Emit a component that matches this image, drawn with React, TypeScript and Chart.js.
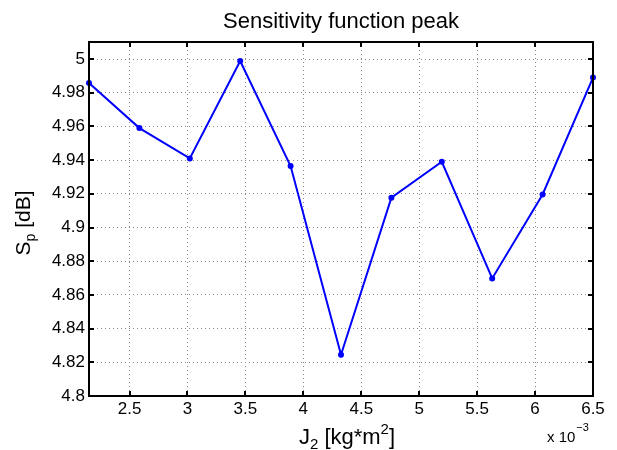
import React, { useEffect, useRef } from "react";
import { Chart, registerables } from "chart.js";

Chart.register(...registerables);

const xValues = [0.00215, 0.002585, 0.00302, 0.003455, 0.00389, 0.004325, 0.00476, 0.005195, 0.00563, 0.006065, 0.0065];
const yValues = [4.9858, 4.959, 4.941, 4.9988, 4.9365, 4.8245, 4.9177, 4.9390, 4.8698, 4.9196, 4.989];
const xTicks = [0.0025, 0.003, 0.0035, 0.004, 0.0045, 0.005, 0.0055, 0.006, 0.0065];
const yTicks = [4.8, 4.82, 4.84, 4.86, 4.88, 4.9, 4.92, 4.94, 4.96, 4.98, 5];
const titleText = "Sensitivity function peak";

const FONT = "'Liberation Sans', Arial, Helvetica, sans-serif";

const framePlugin = {
  id: "matlabFrame",
  afterDraw(chart: any) {
    const { ctx, chartArea: a, scales } = chart;
    const xs = scales.x;
    const ys = scales.y;
    ctx.save();
    ctx.strokeStyle = "#000";
    ctx.lineWidth = 2;
    const tl = 5;
    ctx.beginPath();
    xTicks.forEach((v) => {
      const px = Math.round(xs.getPixelForValue(v));
      ctx.moveTo(px, a.bottom);
      ctx.lineTo(px, a.bottom - tl);
      ctx.moveTo(px, a.top);
      ctx.lineTo(px, a.top + tl);
    });
    yTicks.forEach((v) => {
      const py = Math.round(ys.getPixelForValue(v));
      ctx.moveTo(a.left, py);
      ctx.lineTo(a.left + tl, py);
      ctx.moveTo(a.right, py);
      ctx.lineTo(a.right - tl, py);
    });
    ctx.stroke();
    ctx.strokeRect(a.left, a.top, a.right - a.left, a.bottom - a.top);

    ctx.fillStyle = "#000";

    // title centred over the axes
    ctx.font = `22px ${FONT}`;
    ctx.textAlign = "center";
    ctx.textBaseline = "alphabetic";
    ctx.fillText(titleText, (a.left + a.right) / 2, 28);

    ctx.textAlign = "left";

    // x axis title: J_2 [kg*m^2]
    const big = 22;
    const small = 15;
    const parts: [string, number, number][] = [
      ["J", big, 0],
      ["2", small, 5],
      [" [kg*m", big, 0],
      ["2", small, -10],
      ["]", big, 0],
    ];
    let total = 0;
    parts.forEach(([t, s]) => {
      ctx.font = `${s}px ${FONT}`;
      total += ctx.measureText(t).width;
    });
    let x0 = 347 - total / 2;
    const baseY = 444;
    parts.forEach(([t, s, dy]) => {
      ctx.font = `${s}px ${FONT}`;
      ctx.fillText(t, x0, baseY + dy);
      x0 += ctx.measureText(t).width;
    });

    // y axis title: S_p [dB]
    const ybig = 21;
    const ysmall = 14;
    const yparts: [string, number, number][] = [
      ["S", ybig, 0],
      ["p", ysmall, 5],
      [" [dB]", ybig, 0],
    ];
    let ytotal = 0;
    yparts.forEach(([t, s]) => {
      ctx.font = `${s}px ${FONT}`;
      ytotal += ctx.measureText(t).width;
    });
    ctx.save();
    ctx.translate(30, 223);
    ctx.rotate(-Math.PI / 2);
    let yx = -ytotal / 2;
    yparts.forEach(([t, s, dy]) => {
      ctx.font = `${s}px ${FONT}`;
      ctx.fillText(t, yx, dy);
      yx += ctx.measureText(t).width;
    });
    ctx.restore();

    // exponent label x 10^-3
    ctx.font = `15px ${FONT}`;
    const ex = "x 10";
    const exW = ctx.measureText(ex).width;
    const exX = 547;
    ctx.fillText(ex, exX, 442);
    ctx.font = `11px ${FONT}`;
    ctx.fillText("\u22123", exX + exW + 1, 431);
    ctx.restore();
  },
};

export default function App() {
  const ref = useRef<HTMLCanvasElement | null>(null);

  useEffect(() => {
    if (!ref.current) return;
    const data = xValues.map((x, i) => ({ x, y: yValues[i] }));
    const chart = new Chart(ref.current, {
      type: "scatter",
      data: {
        datasets: [
          {
            data,
            showLine: true,
            borderColor: "#0000ff",
            backgroundColor: "#0000ff",
            borderWidth: 2,
            pointRadius: 3,
            pointBorderWidth: 0,
            pointHoverRadius: 3,
            clip: false,
            tension: 0,
          } as any,
        ],
      },
      options: {
        responsive: false,
        animation: false,
        events: [],
        layout: { padding: { left: 0, right: 24, top: 42, bottom: 0 } },
        plugins: {
          legend: { display: false },
          tooltip: { enabled: false },
          title: { display: false },
        },
        scales: {
          x: {
            type: "linear",
            min: 0.00215,
            max: 0.0065,
            afterBuildTicks: (s: any) => {
              s.ticks = xTicks.map((v) => ({ value: v }));
            },
            afterFit: (s: any) => {
              s.height = 54;
            },
            ticks: {
              color: "#000",
              font: { family: FONT, size: 17 },
              padding: 3,
              maxRotation: 0,
              autoSkip: false,
              callback: (v: any) => String(+(Number(v) * 1000).toFixed(2)),
            },
            grid: {
              color: "#8a8a8a",
              lineWidth: 1,
              drawTicks: false,
            },
            border: { display: false, dash: [1, 3] },
          },
          y: {
            type: "linear",
            min: 4.8,
            max: 5.0101,
            afterBuildTicks: (s: any) => {
              s.ticks = yTicks.map((v) => ({ value: v }));
            },
            afterFit: (s: any) => {
              s.width = 89;
            },
            ticks: {
              color: "#000",
              font: { family: FONT, size: 17 },
              padding: 4,
              autoSkip: false,
              callback: (v: any) => String(+Number(v).toFixed(2)),
            },
            grid: {
              color: "#8a8a8a",
              lineWidth: 1,
              drawTicks: false,
            },
            border: { display: false, dash: [1, 3] },
          },
        },
      },
      plugins: [framePlugin],
    });
    return () => chart.destroy();
  }, []);

  return (
    <canvas
      ref={ref}
      width={617}
      height={450}
      style={{ position: "absolute", left: 0, top: 0, width: 617, height: 450, background: "#fff" }}
    />
  );
}
